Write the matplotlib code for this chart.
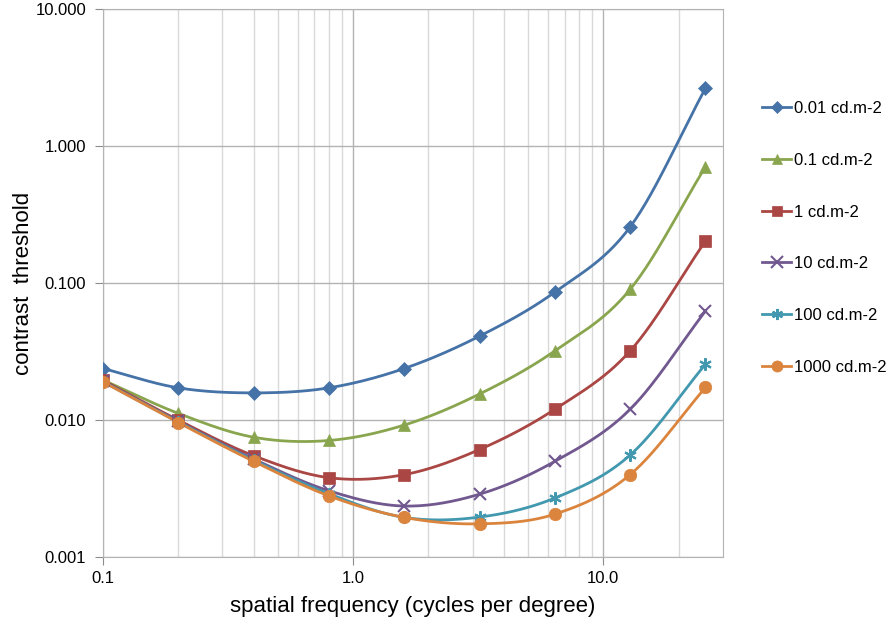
import numpy as np
import matplotlib
matplotlib.use("Agg")
import matplotlib.pyplot as plt
from matplotlib.ticker import FixedLocator, FixedFormatter, NullFormatter

plt.rcParams['font.family'] = ['Liberation Sans', 'DejaVu Sans']

# spatial frequency (cycles per degree)
freq = [0.1, 0.2, 0.4, 0.8, 1.6, 3.2, 6.4, 12.8, 25.6]

# contrast threshold for each luminance level
lum_001 = [0.0238, 0.0172, 0.0158, 0.0172, 0.0238, 0.041, 0.086, 0.257, 2.64]
lum_01 = [0.0196, 0.0112, 0.0075, 0.0071, 0.0092, 0.0155, 0.032, 0.090, 0.706]
lum_1 = [0.0195, 0.0100, 0.0055, 0.0038, 0.0040, 0.0061, 0.0120, 0.032, 0.203]
lum_10 = [0.0192, 0.0098, 0.0052, 0.00305, 0.00236, 0.00288, 0.0050, 0.0120, 0.0625]
lum_100 = [0.0191, 0.0097, 0.0051, 0.0029, 0.00195, 0.00196, 0.0027, 0.00556, 0.0256]
lum_1000 = [0.0190, 0.0096, 0.0050, 0.0028, 0.00195, 0.00175, 0.00206, 0.0040, 0.0173]

labels = ["0.01 cd.m-2", "0.1 cd.m-2", "1 cd.m-2", "10 cd.m-2", "100 cd.m-2", "1000 cd.m-2"]
series = [lum_001, lum_01, lum_1, lum_10, lum_100, lum_1000]
colors = ["#4572A7", "#89A54E", "#AA4643", "#71588F", "#4198AF", "#DB843D"]
markers = ["D", "^", "s", "x", (6, 2, 0), "o"]
msizes = [7, 8, 8, 9, 9, 9]


def smooth(xs, ys, n=30):
    # Catmull-Rom curve through the points in log-log space (like Excel's smoothed line)
    lx = np.log10(xs)
    ly = np.log10(ys)
    px = np.concatenate([[2 * lx[0] - lx[1]], lx, [2 * lx[-1] - lx[-2]]])
    py = np.concatenate([[2 * ly[0] - ly[1]], ly, [2 * ly[-1] - ly[-2]]])
    outx, outy = [], []
    t = np.linspace(0, 1, n)
    for i in range(1, len(px) - 2):
        for p, out in ((px, outx), (py, outy)):
            p0, p1, p2, p3 = p[i - 1], p[i], p[i + 1], p[i + 2]
            m1 = (p2 - p0) / 2
            m2 = (p3 - p1) / 2
            h00 = 2 * t**3 - 3 * t**2 + 1
            h10 = t**3 - 2 * t**2 + t
            h01 = -2 * t**3 + 3 * t**2
            h11 = t**3 - t**2
            out.extend(h00 * p1 + h10 * m1 + h01 * p2 + h11 * m2)
    return 10 ** np.array(outx), 10 ** np.array(outy)


fig = plt.figure(figsize=(8.91, 6.26), dpi=100)
ax = fig.add_axes([0.1156, 0.110, 0.6955, 0.8756])

for ys, lab, c, m, ms in zip(series, labels, colors, markers, msizes):
    sx, sy = smooth(freq, ys)
    ax.plot(sx, sy, color=c, lw=2, zorder=3)
    ax.plot(freq, ys, linestyle="none", marker=m, color=c, markersize=ms,
            markeredgewidth=1.5 if m in ("x", (6, 2, 0)) else 0.5, zorder=4)
    ax.plot([], [], color=c, lw=2, marker=m, markersize=ms - 1,
            markeredgewidth=1.5 if m in ("x", (6, 2, 0)) else 0.5, label=lab)

ax.set_xscale("log")
ax.set_yscale("log")
ax.set_xlim(0.1, 30)
ax.set_ylim(0.001, 10)

xt = [0.1, 1.0, 10.0]
ax.xaxis.set_major_locator(FixedLocator(xt))
ax.xaxis.set_major_formatter(FixedFormatter(["0.1", "1.0", "10.0"]))
minors = [v * d for d in (0.1, 1, 10) for v in range(2, 10)]
ax.xaxis.set_minor_locator(FixedLocator([v for v in minors if v < 30]))
ax.xaxis.set_minor_formatter(NullFormatter())
yt = [0.001, 0.01, 0.1, 1, 10]
ax.yaxis.set_major_locator(FixedLocator(yt))
ax.yaxis.set_major_formatter(FixedFormatter(["0.001", "0.010", "0.100", "1.000", "10.000"]))
ax.yaxis.set_minor_locator(FixedLocator([]))

ax.grid(True, which="major", color="#b3b3b3", lw=1)
ax.grid(True, which="minor", axis="x", color="#d9d9d9", lw=1)
ax.set_axisbelow(True)
for s in ax.spines.values():
    s.set_color("#b3b3b3")
ax.tick_params(which="major", direction="out", length=6, color="#8c8c8c",
               labelsize=12, colors="black")
ax.tick_params(axis="y", which="major", pad=6)
ax.tick_params(axis="x", which="major", pad=4)
ax.tick_params(which="minor", length=0)

ax.set_xlabel("spatial frequency (cycles per degree)", fontsize=16, labelpad=7)
ax.set_ylabel("contrast  threshold", fontsize=16, labelpad=1)

fig.legend(loc="upper left", bbox_to_anchor=(0.848, 0.849), frameon=False,
           fontsize=12, labelspacing=2.2, handlelength=1.75, handletextpad=0.15,
           borderaxespad=0)

fig.savefig("out.png", dpi=100)
